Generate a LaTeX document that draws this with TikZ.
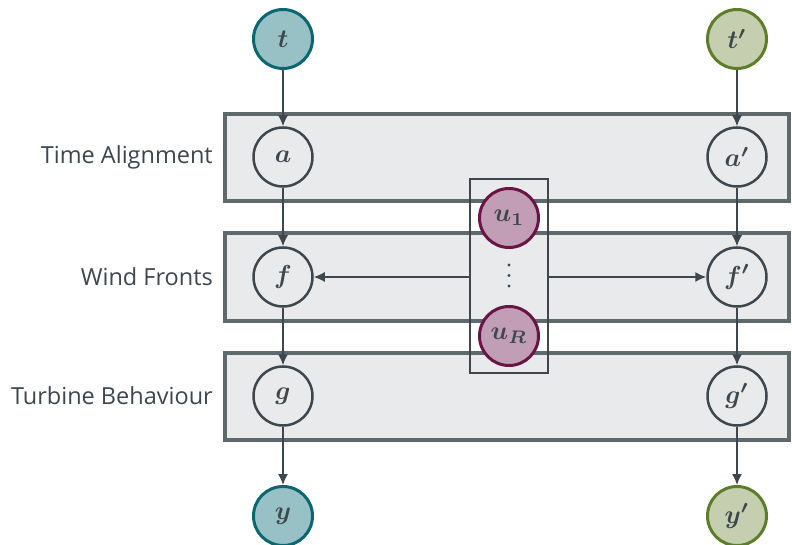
\documentclass[tikz,border=0pt]{standalone}
\usepackage{fontspec}
\setmainfont{Open Sans}
\usepackage{amsmath,bm,graphicx}
\usetikzlibrary{arrows.meta}
\definecolor{ink}{HTML}{3D474D}
\definecolor{layerline}{HTML}{5F686B}
\definecolor{layerfill}{HTML}{E9EAEB}
\definecolor{tealfill}{HTML}{97C1C5}
\definecolor{tealline}{HTML}{0A6670}
\definecolor{olivefill}{HTML}{C5CFAF}
\definecolor{oliveline}{HTML}{5E7D2A}
\definecolor{plumfill}{HTML}{C29EB6}
\definecolor{plumline}{HTML}{6A1445}
\newcommand{\rv}[1]{\scalebox{2.6}{$\bm{#1}$}}
\begin{document}
\begin{tikzpicture}[x=1pt,y=-1pt,%
% common options for the layer boxes:
layer/.style = {draw=layerline, fill=layerfill, line width=4pt},
% common options for the circles:
var/.style = {circle, draw=ink, fill=layerfill, line width=2.5pt,
            minimum size=59pt, inner sep=0, text=ink},
obs/.style = {var, fill=tealfill, draw=tealline, line width=3pt},
obsb/.style = {var, fill=olivefill, draw=oliveline, line width=3pt},
lat/.style = {var, fill=plumfill, draw=plumline, line width=3pt},
% labels on the left:
lbl/.style = {anchor=east, text=ink, inner sep=0,
            font=\fontsize{23.5}{28}\selectfont},
->, >={Latex[length=11pt,width=10pt]}]
\useasboundingbox (0,0) rectangle (792,545);
\draw[layer] (224.5,114) rectangle (789,201);
\draw[layer] (224.5,233.5) rectangle (789,320.5);
\draw[layer] (224.5,352.5) rectangle (789,439.5);
\node[lbl] (L1) at (213,157) {Time Alignment};
\node[lbl] (L2) at (213,277) {Wind Fronts};
\node[lbl] (L3) at (213,396) {Turbine Behaviour};
\node[obs] (t) at (283,39) {\rv{t}};
\node[var] (a) at (283,157) {\rv{a}};
\node[var] (f) at (283,277) {\rv{f}};
\node[var] (g) at (283,396) {\rv{g}};
\node[obs] (y) at (283,516) {\rv{y}};
\node[obsb] (t2) at (737,39) {\rv{t'}};
\node[var] (a2) at (737,157) {\rv{a'}};
\node[var] (f2) at (737,277) {\rv{f'}};
\node[var] (g2) at (737,396) {\rv{g'}};
\node[obsb] (y2) at (737,516) {\rv{y'}};
\node[draw=ink, line width=1.5pt, minimum width=78pt, minimum height=194pt,
      inner sep=0] (plate) at (509,276) {};
\node[lat] (u1) at (509,218) {\rv{u_1}};
\node[lat] (uR) at (509,336) {\rv{u_R}};
% vertical dots between u_1 and u_R
\fill[ink] (509,265) circle (1.7);
\fill[ink] (509,275.5) circle (1.7);
\fill[ink] (509,286) circle (1.7);
\draw[ink, line width=1.5pt] (t.south) to (a.north);
\draw[ink, line width=1.5pt] (a.south) to (f.north);
\draw[ink, line width=1.5pt] (f.south) to (g.north);
\draw[ink, line width=1.5pt] (g.south) to (y.north);
\draw[ink, line width=1.5pt] (t2.south) to (a2.north);
\draw[ink, line width=1.5pt] (a2.south) to (f2.north);
\draw[ink, line width=1.5pt] (f2.south) to (g2.north);
\draw[ink, line width=1.5pt] (g2.south) to (y2.north);
\draw[ink, line width=1.5pt] (plate.west |- f.east) to (f.east);
\draw[ink, line width=1.5pt] (plate.east |- f2.west) to (f2.west);
\end{tikzpicture}
\end{document}
